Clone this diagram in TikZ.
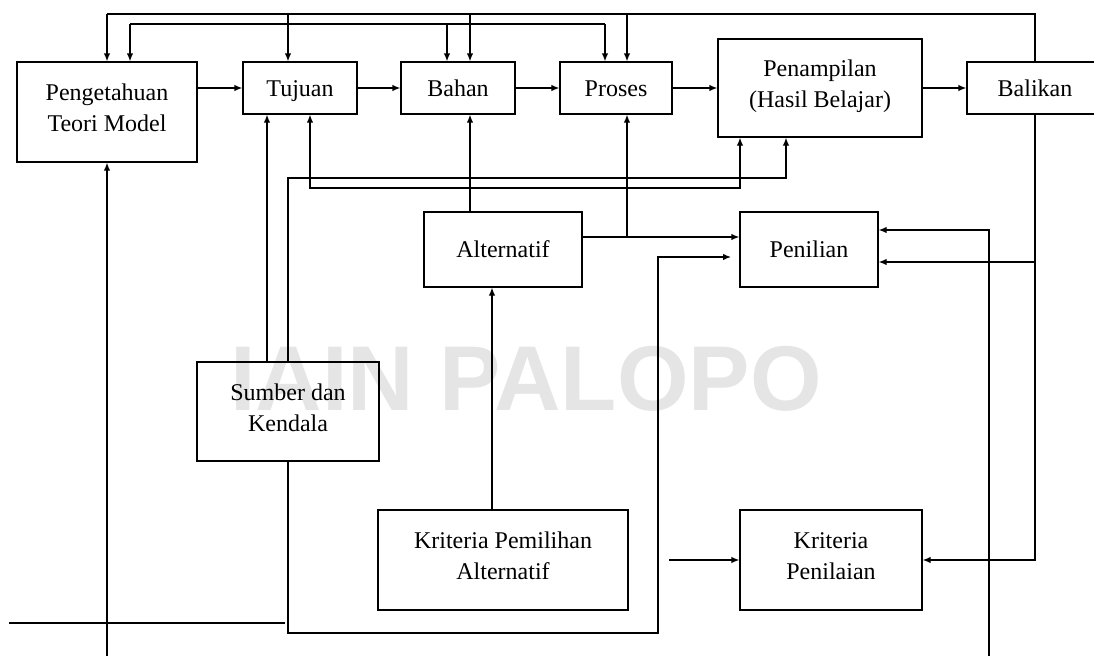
\documentclass[tikz,border=0pt]{standalone}
\usepackage{fontspec}
\setmainfont{Liberation Serif}
\newfontfamily\wmsans{Liberation Sans}
\usetikzlibrary{arrows.meta}
\newcommand\boxfont{\fontsize{24}{31}\selectfont}
\tikzset{
  box/.style={draw, line width=1.3pt, align=center, inner sep=0pt, font=\boxfont},
  one/.style={text height=16pt, text depth=0pt},
  multi/.style={text depth=8pt},
  link/.style={line width=1.3pt},
  arr/.style={link, -{Latex[length=8pt,width=6.5pt]}},
}
\begin{document}
\begin{tikzpicture}[x=1pt,y=-1pt]
\useasboundingbox (0,0) rectangle (1094,656);
% watermark
\node[font={\wmsans\bfseries\fontsize{92}{92}\selectfont}, text=black!10] (wm) at (526,379) {IAIN PALOPO};
% boxes
\node[box, multi, minimum width=180pt, minimum height=100pt] (pk) at (107,112) {Pengetahuan\\Teori Model};
\node[box, one, minimum width=114pt, minimum height=52pt] (tj) at (300,88) {Tujuan};
\node[box, one, minimum width=114pt, minimum height=52pt] (bh) at (458,88) {Bahan};
\node[box, one, minimum width=112pt, minimum height=52pt] (pr) at (616,88) {Proses};
\node[box, multi, minimum width=204pt, minimum height=98pt] (pn) at (820,88) {Penampilan\\(Hasil Belajar)};
\node[box, one, minimum width=136pt, minimum height=52pt] (bl) at (1035,88) {Balikan};
\node[box, one, minimum width=158pt, minimum height=75pt] (al) at (503,249.5) {Alternatif};
\node[box, one, minimum width=138pt, minimum height=75pt] (pl) at (809,249.5) {Penilian};
\node[box, multi, minimum width=182pt, minimum height=99pt] (sk) at (288,411.5) {Sumber dan\\Kendala};
\node[box, multi, minimum width=250pt, minimum height=100pt] (kp) at (503,560) {Kriteria Pemilihan\\Alternatif};
\node[box, multi, minimum width=182pt, minimum height=100pt] (kn) at (831,560) {Kriteria\\Penilaian};
% named coordinates
\coordinate (y1L) at (107,14);
\coordinate (y2L) at (130,24);
\coordinate (y2R) at (605,24);
\coordinate (jA) at (288,178);
\coordinate (jB) at (470,188);
\coordinate (jC) at (627,237);
\coordinate (jD) at (658,633);
\coordinate (tD) at (731,257);
\coordinate (bE) at (989,656);
\coordinate (jE) at (989,230);
\coordinate (jF) at (1035,560);
\coordinate (jG) at (1035,262);
\coordinate (fK) at (669,560);
\coordinate (bP) at (107,656);
\coordinate (fL1) at (9,623);
\coordinate (fL2) at (285,623);
% main chain
\draw[arr] (pk.east |- tj) -- (tj.west);
\draw[arr] (tj.east) -- (bh.west);
\draw[arr] (bh.east) -- (pr.west);
\draw[arr] (pr.east) -- (pn.west);
\draw[arr] (pn.east) -- (bl.west);
% top feedback bus
\draw[link] (bl.north) |- (y1L);
\draw[arr] (y1L) -- (pk.north);
\draw[arr] ([xshift=-12pt]tj.north |- y1L) -- ([xshift=-12pt]tj.north);
\draw[arr] ([xshift=12pt]bh.north |- y1L) -- ([xshift=12pt]bh.north);
\draw[arr] ([xshift=11pt]pr.north |- y1L) -- ([xshift=11pt]pr.north);
% second bus
\draw[link] (y2L) -- (y2R);
\draw[arr] (y2L) -- (pk.north -| y2L);
\draw[arr] ([xshift=-11pt]bh.north |- y2L) -- ([xshift=-11pt]bh.north);
\draw[arr] (y2R) -- (pr.north -| y2R);
% middle links
\draw[arr] (sk.north) -- (jA) -| ([xshift=-34pt]pn.south);
\draw[arr] (jB) -| ([xshift=10pt]tj.south);
\draw[arr] (jB) -| ([xshift=-80pt]pn.south);
\draw[arr] ([xshift=-33pt]al.north) -- ([xshift=12pt]bh.south);
\draw[arr] ([xshift=-21pt]sk.north) -- ([xshift=-33pt]tj.south);
\draw[arr] ([xshift=-11pt]kp.north) -- ([xshift=-11pt]al.south);
\draw[arr] (al.east |- jC) -- (pl.west |- jC);
\draw[arr] (jC) -- (pr.south -| jC);
% lower routes
\draw[arr] (sk.south) |- (jD) |- (tD);
\draw[arr] (bE) -- (jE) -- (pl.east |- jE);
\draw[arr] (bl.south) -- (jF) -- (kn.east);
\draw[arr] (jG) -- (pl.east |- jG);
\draw[arr] (fK) -- (kn.west);
\draw[arr] (bP) -- (pk.south);
\draw[link] (fL1) -- (fL2);
\end{tikzpicture}
\end{document}
